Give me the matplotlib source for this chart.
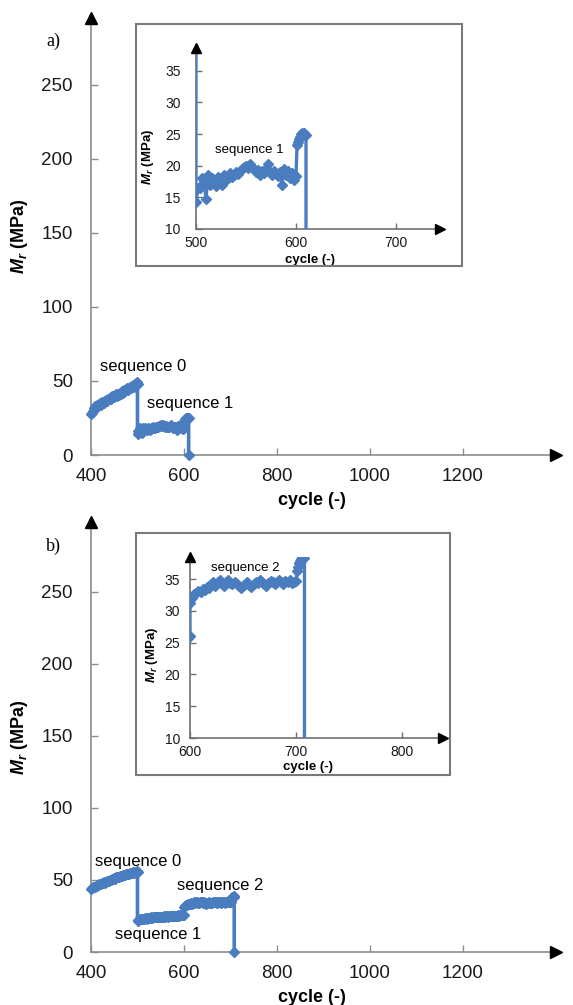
import numpy as np
import matplotlib
matplotlib.use("Agg")
import matplotlib.pyplot as plt
from matplotlib.patches import Rectangle

plt.rcParams['font.family'] = ['Liberation Sans', 'DejaVu Sans']
plt.rcParams['mathtext.fontset'] = 'custom'
plt.rcParams['mathtext.rm'] = 'Liberation Sans'
plt.rcParams['mathtext.it'] = 'Liberation Sans:italic'
plt.rcParams['mathtext.bf'] = 'Liberation Sans:bold'
try:
    plt.rcParams['mathtext.bfit'] = 'Liberation Sans:italic:bold'
except Exception:
    pass

# ---------------- data ----------------
# panel a
a_seq0_y = [27.5, 28.5, 30.0, 31.5, 33.0, 32.0, 33.5, 34.0, 33.0, 34.5, 35.0, 34.0, 35.5,
            36.0, 35.0, 36.5, 37.0, 36.5, 38.0, 37.5, 38.5, 39.0, 38.0, 39.5, 40.0, 39.0,
            40.5, 41.0, 40.0, 41.5, 40.5, 42.0, 41.5, 43.0, 42.0, 43.5, 44.0, 43.0, 44.5,
            45.0, 44.0, 45.5, 46.0, 45.0, 46.5, 47.0, 46.0, 47.5, 48.5, 49.5, 48.0]
a_seq1_y = [14.3, 16.5, 16.5, 18.0, 17.5, 14.8, 18.5, 17.0, 18.0, 17.5, 16.8, 18.2, 17.5,
            17.0, 18.5, 17.8, 18.0, 18.8, 18.2, 18.5, 19.0, 18.7, 19.2, 19.5, 19.8, 20.0,
            19.6, 20.2, 19.8, 19.5, 19.0, 19.4, 18.6, 19.2, 18.8, 19.5, 20.3, 19.0, 18.5,
            19.2, 18.8, 18.3, 19.0, 17.0, 19.5, 18.6, 19.2, 18.0, 18.8, 17.8, 18.3]
a_end_x = [601, 602, 603, 604, 605, 606, 607, 608, 609, 610, 610]
a_end_y = [23.2, 23.8, 24.2, 24.6, 25.0, 25.2, 25.0, 25.1, 24.9, 24.8, 0.0]

# panel b
b_seq0_y = [44.0, 44.5, 45.0, 45.3, 45.0, 45.8, 46.0, 46.5, 46.3, 47.0, 47.2, 47.0, 47.8,
            48.0, 48.3, 48.0, 48.8, 49.0, 49.5, 49.2, 50.0, 50.2, 50.0, 50.8, 51.0, 51.3,
            51.0, 51.8, 52.0, 52.3, 52.0, 52.6, 53.0, 52.8, 53.3, 53.5, 53.2, 53.8, 54.0,
            54.2, 54.0, 54.5, 54.8, 54.6, 55.0, 55.3, 55.0, 55.5, 55.8, 56.0, 55.5]
b_seq1_y = [21.5, 22.0, 22.5, 22.8, 22.6, 23.0, 23.2, 23.0, 23.3, 23.5, 23.2, 23.6, 23.8,
            23.5, 23.7, 24.0, 23.8, 24.0, 24.2, 24.0, 24.3, 24.1, 24.4, 24.2, 24.5, 24.3,
            24.6, 24.4, 24.6, 24.8, 24.5, 24.7, 24.9, 24.6, 24.8, 25.0, 24.8, 25.0, 25.1,
            24.9, 25.1, 25.3, 25.0, 25.2, 25.4, 25.2, 25.4, 25.6, 25.5, 25.8, 26.0]
b_seq2_y = [31.2, 32.0, 32.6, 32.9, 33.2, 33.0, 33.5, 33.3, 33.8, 33.6, 34.2, 34.5, 34.0,
            34.6, 34.8, 34.3, 34.0, 34.5, 34.8, 34.4, 34.2, 34.6, 34.3, 34.0, 33.6, 33.9,
            34.2, 34.5, 34.1, 33.8, 34.3, 34.6, 34.4, 34.8, 34.5, 34.2, 34.0, 34.4, 34.7,
            34.5, 34.2, 34.6, 34.9, 34.5, 34.3, 34.7, 34.5, 34.8, 34.4, 34.6, 34.7]
b_end_x = [701, 702, 703, 704, 705, 706, 707, 708, 708]
b_end_y = [36.3, 37.0, 37.5, 37.9, 38.2, 38.5, 38.6, 38.3, 0.0]

main_xticks = [400, 600, 800, 1000, 1200]
main_yticks = [0, 50, 100, 150, 200, 250]
inset_yticks = [10, 15, 20, 25, 30, 35]
inset_a_xticks = [500, 600, 700]
inset_b_xticks = [600, 700, 800]


def seq_x(start, n):
    return list(np.linspace(start, start + 100, n))


xa = seq_x(400, len(a_seq0_y)) + seq_x(500, len(a_seq1_y)) + a_end_x
ya = a_seq0_y + a_seq1_y + a_end_y
xb = (seq_x(400, len(b_seq0_y)) + seq_x(500, len(b_seq1_y)) +
      seq_x(600, len(b_seq2_y)) + b_end_x)
yb = b_seq0_y + b_seq1_y + b_seq2_y + b_end_y

# ---------------- layout ----------------
W, H = 573, 1005
fig = plt.figure(figsize=(W / 100, H / 100), dpi=100)
BLUE = '#4a7dc0'
GRAY = '#8c8c8c'
YLAB = r'$\mathbfit{M_r}$ (MPa)'


def rect(l, r, b, t):
    return [l / W, 1 - b / H, (r - l) / W, (b - t) / H]


def style_axes(ax, fs, pad_x, pad_y, tlen, msize, spine_col):
    for s in ['top', 'right']:
        ax.spines[s].set_visible(False)
    for s in ['left', 'bottom']:
        ax.spines[s].set_color(spine_col)
        ax.spines[s].set_linewidth(1.2)
    ax.tick_params(axis='both', direction='in', length=tlen, width=1,
                   color=spine_col, labelsize=fs, labelcolor='#1a1a1a')
    ax.tick_params(axis='x', pad=pad_x)
    ax.tick_params(axis='y', pad=pad_y)
    ax.set_facecolor('none')
    ax.plot([1], [0], marker='>', color='black', ms=msize,
            transform=ax.transAxes, clip_on=False, zorder=5)
    ax.plot([0], [1], marker='^', color='black', ms=msize,
            transform=ax.transAxes, clip_on=False, zorder=5)


def draw_main(ax, x, y, ytop):
    ax.plot(x, y, color=BLUE, lw=2.6, marker='D', ms=5.2, mec=BLUE, mfc=BLUE,
            clip_on=False, zorder=3)
    ax.set_xlim(400, 1400)
    ax.set_ylim(0, ytop)
    ax.set_xticks(main_xticks)
    ax.set_yticks(main_yticks)
    style_axes(ax, 13.5, 9, 13, 5, 8, GRAY)
    ax.set_xlabel('cycle (-)', fontsize=13, fontweight='bold')
    ax.xaxis.set_label_coords(0.475, -0.085)
    ax.set_ylabel(YLAB, fontsize=13, fontweight='bold', labelpad=8)


def draw_inset(ax, x, y, xlim, ylim, xticks, pad_y, lab_x, lab_y, ylab_x, ylab_y):
    ax.plot(x, y, color=BLUE, lw=2.4, marker='D', ms=4.6, mec=BLUE, mfc=BLUE,
            zorder=3)
    ax.set_xlim(*xlim)
    ax.set_ylim(*ylim)
    ax.set_xticks(xticks)
    ax.set_yticks(inset_yticks)
    style_axes(ax, 10, 5, pad_y, 4, 7, '#707070')
    ax.set_xlabel('cycle (-)', fontsize=9.5, fontweight='bold')
    ax.xaxis.set_label_coords(lab_x, lab_y)
    ax.set_ylabel(YLAB, fontsize=9.5, fontweight='bold')
    ax.yaxis.set_label_coords(ylab_x, ylab_y)


# panel a
axa = fig.add_axes(rect(91, 556, 455, 18))
draw_main(axa, xa, ya, 295)
axa.text(419, 59.5, 'sequence 0', fontsize=12, ha='left', va='center')
axa.text(520, 35, 'sequence 1', fontsize=12, ha='left', va='center')

fig.add_artist(Rectangle((136 / W, 1 - 266 / H), (462 - 136) / W, (266 - 24) / H,
                         transform=fig.transFigure, fill=False,
                         edgecolor='#7a7a7a', lw=1.5))
axia = fig.add_axes(rect(196, 440, 229, 48))
draw_inset(axia, xa, ya, (500, 744), (10, 38.6), inset_a_xticks, 11,
           0.467, -0.14, -0.165, 0.40)
axia.text(519, 22.5, 'sequence 1', fontsize=9.5, ha='left', va='center')

fig.text(46 / W, 1 - 41 / H, 'a)', fontsize=13, family='Liberation Serif',
         ha='left', va='center')

# panel b
axb = fig.add_axes(rect(91, 556, 952, 522))
draw_main(axb, xb, yb, 298.6)
axb.text(409, 62.5, 'sequence 0', fontsize=12, ha='left', va='center')
axb.text(585, 46.5, 'sequence 2', fontsize=12, ha='left', va='center')
axb.text(452, 12, 'sequence 1', fontsize=12, ha='left', va='center')

fig.add_artist(Rectangle((136 / W, 1 - 775 / H), (450 - 136) / W, (775 - 533) / H,
                         transform=fig.transFigure, fill=False,
                         edgecolor='#7a7a7a', lw=1.5))
axib = fig.add_axes(rect(190, 443, 738, 557))
draw_inset(axib, xb, yb, (600, 838.7), (10, 38.5), inset_b_xticks, 7,
           0.466, -0.125, -0.12, 0.46)
axib.text(620, 36.7, 'sequence 2', fontsize=9.5, ha='left', va='center')

fig.text(46 / W, 1 - 546 / H, 'b)', fontsize=13, family='Liberation Serif',
         ha='left', va='center')

fig.savefig('out.png', dpi=100)
